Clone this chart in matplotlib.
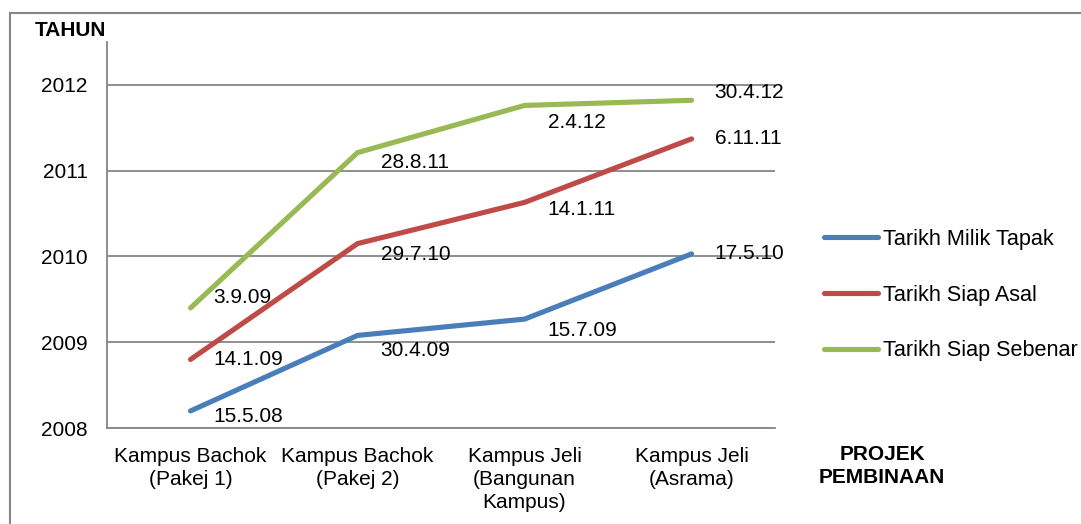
import matplotlib.pyplot as plt
from matplotlib.patches import Rectangle

plt.rcParams["font.family"] = ["Liberation Sans", "DejaVu Sans"]

# data (decimal year)
projects = ["Kampus Bachok\n(Pakej 1)", "Kampus Bachok\n(Pakej 2)",
            "Kampus Jeli\n(Bangunan\nKampus)", "Kampus Jeli\n(Asrama)"]
milik_tapak = [2008.20, 2009.08, 2009.27, 2010.03]
siap_asal = [2008.80, 2010.15, 2010.63, 2011.37]
siap_sebenar = [2009.40, 2011.21, 2011.76, 2011.82]
milik_tapak_labels = ["15.5.08", "30.4.09", "15.7.09", "17.5.10"]
siap_asal_labels = ["14.1.09", "29.7.10", "14.1.11", "6.11.11"]
siap_sebenar_labels = ["3.9.09", "28.8.11", "2.4.12", "30.4.12"]
years = [2008, 2009, 2010, 2011, 2012]

series = [
    ("Tarikh Milik Tapak", milik_tapak, milik_tapak_labels, "#4a7ebb", [-6, -15, -11, 0]),
    ("Tarikh Siap Asal", siap_asal, siap_asal_labels, "#be4b48", [0, -11, -7, 0]),
    ("Tarikh Siap Sebenar", siap_sebenar, siap_sebenar_labels, "#98b954", [10, -10, -17, 8]),
]

fig = plt.figure(figsize=(10.81, 5.24), dpi=100)
ax = fig.add_axes([0.099, 0.183, 0.618, 0.737])

x = list(range(len(projects)))
for name, vals, labels, color, dys in series:
    ax.plot(x, vals, color=color, lw=3.7, label=name, solid_capstyle="round")
    for xi, v, lab, dy in zip(x, vals, labels, dys):
        ax.annotate(lab, (xi, v), xytext=(23, dy), textcoords="offset pixels",
                    ha="left", va="center", fontsize=15, color="black")

ax.set_xlim(-0.5, 3.5)
ax.set_ylim(2008, 2012.5)
ax.set_yticks(years)
ax.set_yticklabels([str(y) for y in years])
ax.set_xticks(x)
ax.set_xticklabels(projects, linespacing=1.28)
ax.tick_params(axis="both", length=0, labelsize=15)
ax.tick_params(axis="y", pad=14)
ax.tick_params(axis="x", pad=13.5)
ax.grid(axis="y", color="#868686", lw=1.3)
ax.set_axisbelow(True)
for s in ["top", "right"]:
    ax.spines[s].set_visible(False)
for s in ["left", "bottom"]:
    ax.spines[s].set_color("#868686")
    ax.spines[s].set_linewidth(1.3)

fig.text(35 / 1081, 1 - 31 / 524, "TAHUN", fontsize=15, fontweight="bold", va="center")
fig.text(882 / 1081, 1 - 466 / 524, "PROJEK\nPEMBINAAN", fontsize=15, fontweight="bold",
         ha="center", va="center", linespacing=1.28)

fig.legend(loc="upper left", bbox_to_anchor=(824 / 1081, 1 - 229 / 524), frameon=False,
           fontsize=15.6, handlelength=2.5, handletextpad=0.22, labelspacing=1.6,
           borderaxespad=0, borderpad=0)

# outer chart frame (cropped on right and bottom)
fig.patches.append(Rectangle((10 / 1081, -0.2), 1.5, 1.2 - 13 / 524, transform=fig.transFigure,
                             fill=False, edgecolor="#868686", lw=1.5))

fig.savefig("out.png", dpi=100)
